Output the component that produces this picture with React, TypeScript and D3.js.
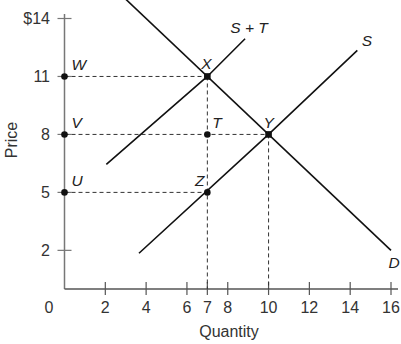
import React from "react";
import * as d3 from "d3";

const xTicks = [2, 4, 6, 7, 8, 10, 12, 14, 16];
const yTicks = [2, 5, 8, 11, 14];
const yTickLabels = ["2", "5", "8", "11", "$14"];

const demandD: [number, number][] = [[3.0, 15.0], [16, 2]];
const supplyS: [number, number][] = [[3.65, 1.85], [10, 8], [14.35, 12.35]];
const supplyST: [number, number][] = [[2.05, 6.45], [7, 11], [8.85, 12.95]];

const axisPoints = [
  { p: 11, label: "W" },
  { p: 8, label: "V" },
  { p: 5, label: "U" },
];
const markPoints = [
  { q: 7, p: 11, label: "X", dx: -1, dy: -7, anchor: "middle" },
  { q: 7, p: 8, label: "T", dx: 5, dy: -6, anchor: "start" },
  { q: 10, p: 8, label: "Y", dx: 0, dy: -6, anchor: "middle" },
  { q: 7, p: 5, label: "Z", dx: -3, dy: -6, anchor: "end" },
];
const hDashes = [
  { p: 11, q: 7 },
  { p: 8, q: 10 },
  { p: 5, q: 7 },
];
const vDashes = [
  { q: 7, p: 11 },
  { q: 10, p: 8 },
];

export default function App() {
  const W = 401, H = 344;
  const x = d3.scaleLinear().domain([0, 16]).range([64.5, 391]);
  const y = d3.scaleLinear().domain([0, 14]).range([289, 18.5]);
  const line = d3.line<[number, number]>().x((d) => x(d[0])).y((d) => y(d[1]));
  const font = "Arial, 'Liberation Sans', sans-serif";
  const axisColor = "#777";
  const fs = 16;
  const lfs = 15.5;
  return (
    <svg width={W} height={H} style={{ position: "absolute", left: 0, top: 0 }} fontFamily={font}>
      <rect width={W} height={H} fill="#fff" />
      {/* axes */}
      <line x1={x(0)} x2={x(0)} y1={14} y2={y(0)} stroke={axisColor} strokeWidth={1.5} />
      <line x1={x(0)} x2={398} y1={y(0)} y2={y(0)} stroke="#555" strokeWidth={1.5} />
      {yTicks.map((t, i) => (
        <g key={"y" + t}>
          <line x1={x(0) - 7} x2={x(0) + 7} y1={y(t)} y2={y(t)} stroke={axisColor} strokeWidth={1.2} />
          <text x={50} y={y(t)} dy="0.36em" textAnchor="end" fontSize={fs} fill="#333">
            {yTickLabels[i]}
          </text>
        </g>
      ))}
      {xTicks.map((t) => (
        <g key={"x" + t}>
          <line x1={x(t)} x2={x(t)} y1={y(0) - 7} y2={y(0) + 6} stroke="#555" strokeWidth={1.2} />
          <text x={x(t)} y={313} textAnchor="middle" fontSize={fs} fill="#333">
            {t}
          </text>
        </g>
      ))}
      <text x={49} y={313} textAnchor="middle" fontSize={fs} fill="#333">0</text>
      <text x={229} y={337} textAnchor="middle" fontSize={fs} fill="#333">Quantity</text>
      <text transform="translate(17,140) rotate(-90)" textAnchor="middle" fontSize={fs} fill="#333">Price</text>

      {/* dashes */}
      {hDashes.map((d, i) => (
        <line key={"h" + i} x1={x(0)} x2={x(d.q)} y1={y(d.p)} y2={y(d.p)} stroke="#333" strokeWidth={1} strokeDasharray="4,3" />
      ))}
      {vDashes.map((d, i) => (
        <line key={"v" + i} x1={x(d.q)} x2={x(d.q)} y1={y(d.p)} y2={y(0)} stroke="#333" strokeWidth={1} strokeDasharray="4,3" />
      ))}

      {/* curves */}
      <path d={line(demandD) || ""} fill="none" stroke="#111" strokeWidth={1.6} />
      <path d={line(supplyS) || ""} fill="none" stroke="#111" strokeWidth={1.6} />
      <path d={line(supplyST) || ""} fill="none" stroke="#111" strokeWidth={1.6} />

      {/* points */}
      {axisPoints.map((d) => (
        <g key={d.label}>
          <circle cx={x(0)} cy={y(d.p)} r={3.3} fill="#111" />
          <text x={x(0) + 7} y={y(d.p) - 6} fontSize={lfs} fontStyle="italic" fill="#222">{d.label}</text>
        </g>
      ))}
      {markPoints.map((d) => (
        <g key={d.label}>
          {d.label === "X" || d.label === "Y" ? (
            <rect x={x(d.q) - 3.3} y={y(d.p) - 3.3} width={6.6} height={6.6} fill="#111" />
          ) : (
            <circle cx={x(d.q)} cy={y(d.p)} r={3.3} fill="#111" />
          )}
          <text x={x(d.q) + d.dx} y={y(d.p) + d.dy} textAnchor={d.anchor as any} fontSize={lfs} fontStyle="italic" fill="#222">{d.label}</text>
        </g>
      ))}

      {/* curve labels */}
      <text x={249} y={33} textAnchor="middle" fontSize={lfs} fontStyle="italic" fill="#222">S + T</text>
      <text x={367} y={46} textAnchor="middle" fontSize={lfs} fontStyle="italic" fill="#222">S</text>
      <text x={394} y={268} textAnchor="middle" fontSize={lfs} fontStyle="italic" fill="#222">D</text>
    </svg>
  );
}
